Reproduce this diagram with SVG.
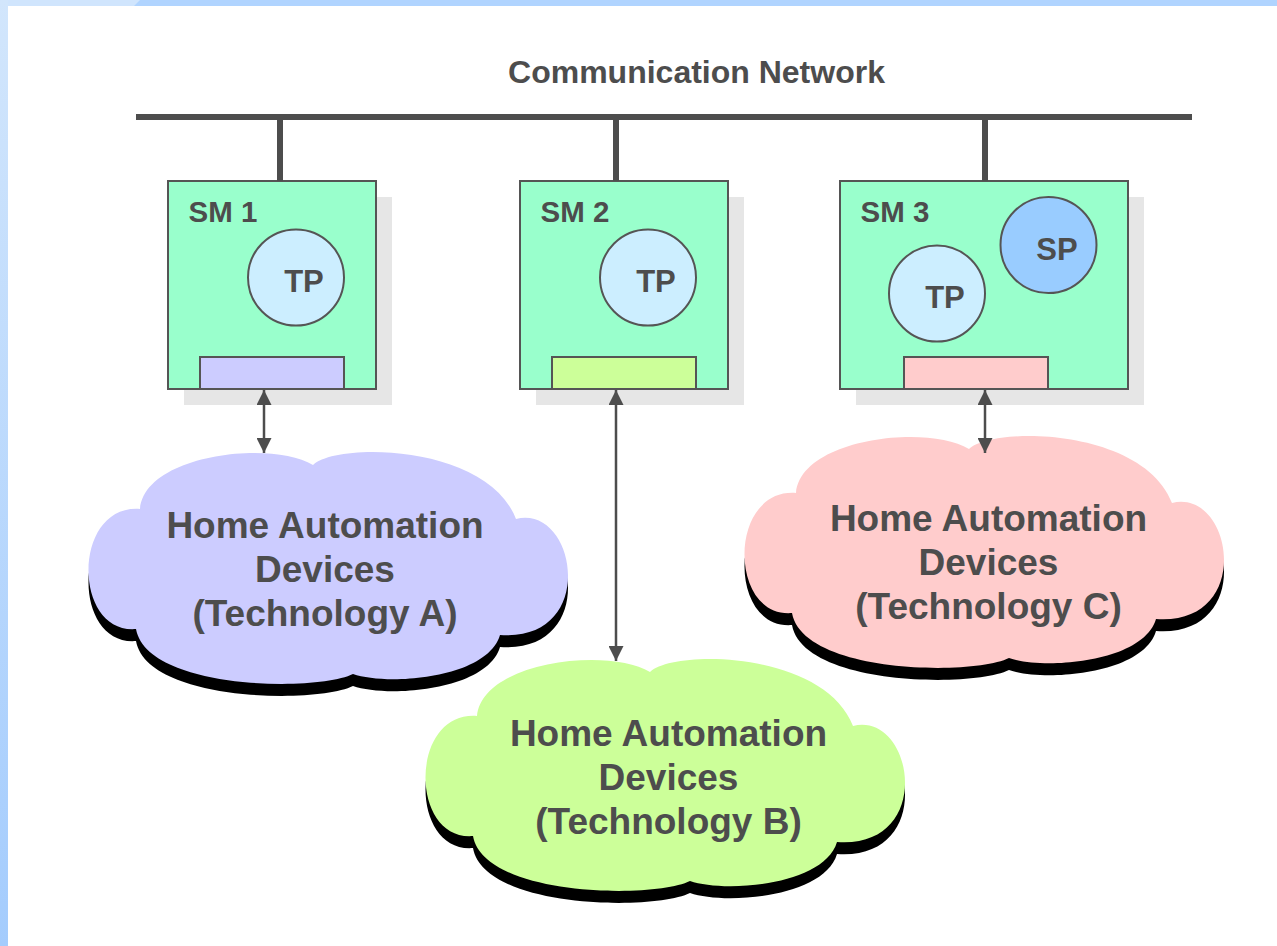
<svg xmlns="http://www.w3.org/2000/svg" width="1277" height="946" viewBox="0 0 1277 946">
<style>
  .t { font-family: "Liberation Sans", Arial, sans-serif; font-weight: bold; fill: #4d4d4d; }
  .c { font-size: 37px; text-anchor: middle; }
  .sm { fill: #99ffcc; stroke: #555555; stroke-width: 2; }
  .shadow { fill: #e6e6e6; }
  .tp { fill: #cceeff; stroke: #555555; stroke-width: 2; }
  .sp { fill: #99ccff; stroke: #555555; stroke-width: 2; }
  .iface { stroke: #555555; stroke-width: 2; }
  .bus { stroke: #4d4d4d; stroke-width: 6; fill: none; }
  .arrow { stroke: #4d4d4d; stroke-width: 2.5; fill: none; marker-start: url(#ah); marker-end: url(#ah); }
</style>
<defs>
  <linearGradient id="leftband" x1="0" y1="0" x2="0" y2="1">
    <stop offset="0" stop-color="#d2e6fc"/>
    <stop offset="1" stop-color="#a4ccfd"/>
  </linearGradient>
  <marker id="ah" viewBox="0 0 15 15" refX="15" refY="7.5" markerWidth="15" markerHeight="15" markerUnits="userSpaceOnUse" orient="auto-start-reverse">
    <path d="M0,0 L15,7.5 L0,15 Z" fill="#4d4d4d"/>
  </marker>
  <path id="cloud" d="M53,55 C58,0 185,-14 226,11 C250,-12 400,-10 429,65 C490,50 512,188 413,181 C400,225 300,232 266,220 C230,238 60,236 49,175 C-15,180 -15,50 53,55 Z"/>
</defs>

<g id="background">
  <rect x="0" y="0" width="1277" height="946" fill="#ffffff"/>
  <rect x="0" y="0" width="1277" height="6" fill="#b0d4ff"/>
  <polygon points="0,0 140,0 134,6 0,6" fill="#d0e5fd"/>
  <rect x="0" y="0" width="8" height="946" fill="url(#leftband)"/>
</g>

<g id="network">
  <text class="t" x="696.5" y="83" font-size="32" text-anchor="middle">Communication Network</text>
  <line class="bus" x1="136" y1="117" x2="1192" y2="117"/>
</g>

<g id="sm1">
  <rect class="shadow" x="184" y="197" width="208" height="208"/>
  <rect class="sm" x="168" y="181" width="208" height="208"/>
  <text class="t" x="188.5" y="221.5" font-size="29.5">SM 1</text>
  <circle class="tp" cx="296" cy="277.5" r="48"/>
  <text class="t" x="304" y="291.5" font-size="31" text-anchor="middle">TP</text>
  <rect class="iface" x="200" y="357" width="144" height="32" fill="#ccccff"/>
</g>

<g id="sm2">
  <rect class="shadow" x="536" y="197" width="208" height="208"/>
  <rect class="sm" x="520" y="181" width="208" height="208"/>
  <text class="t" x="540.5" y="221.5" font-size="29.5">SM 2</text>
  <circle class="tp" cx="648" cy="277.5" r="48"/>
  <text class="t" x="656" y="291.5" font-size="31" text-anchor="middle">TP</text>
  <rect class="iface" x="552" y="357" width="144" height="32" fill="#ccff99"/>
</g>

<g id="sm3">
  <rect class="shadow" x="856" y="197" width="288" height="208"/>
  <rect class="sm" x="840" y="181" width="288" height="208"/>
  <text class="t" x="860.5" y="221.5" font-size="29.5">SM 3</text>
  <circle class="tp" cx="937" cy="293.5" r="48"/>
  <text class="t" x="945" y="307.5" font-size="31" text-anchor="middle">TP</text>
  <circle class="sp" cx="1048.5" cy="245" r="48"/>
  <text class="t" x="1057" y="260" font-size="31" text-anchor="middle">SP</text>
  <rect class="iface" x="904" y="357" width="144" height="32" fill="#ffcccc"/>
</g>

<g id="cloudA">
  <use href="#cloud" transform="translate(87,466)" fill="#000000"/>
  <use href="#cloud" transform="translate(87,454)" fill="#ccccff"/>
  <text class="t c" x="325" y="538">Home Automation</text>
  <text class="t c" x="325" y="582">Devices</text>
  <text class="t c" x="325" y="626">(Technology A)</text>
</g>

<g id="cloudC">
  <use href="#cloud" transform="translate(743,450)" fill="#000000"/>
  <use href="#cloud" transform="translate(743,438)" fill="#ffcccc"/>
  <text class="t c" x="988.5" y="531">Home Automation</text>
  <text class="t c" x="988.5" y="575">Devices</text>
  <text class="t c" x="988.5" y="619">(Technology C)</text>
</g>

<g id="cloudB">
  <use href="#cloud" transform="translate(424,673)" fill="#000000"/>
  <use href="#cloud" transform="translate(424,661)" fill="#ccff99"/>
  <text class="t c" x="668.5" y="746">Home Automation</text>
  <text class="t c" x="668.5" y="790">Devices</text>
  <text class="t c" x="668.5" y="834">(Technology B)</text>
</g>

<g id="connectors">
  <line class="bus" x1="280" y1="117" x2="280" y2="181"/>
  <line class="bus" x1="616" y1="117" x2="616" y2="181"/>
  <line class="bus" x1="985" y1="117" x2="985" y2="181"/>
  <line class="arrow" x1="264" y1="390" x2="264" y2="453"/>
  <line class="arrow" x1="616" y1="390" x2="616" y2="661"/>
  <line class="arrow" x1="985" y1="390" x2="985" y2="453"/>
</g>
</svg>
